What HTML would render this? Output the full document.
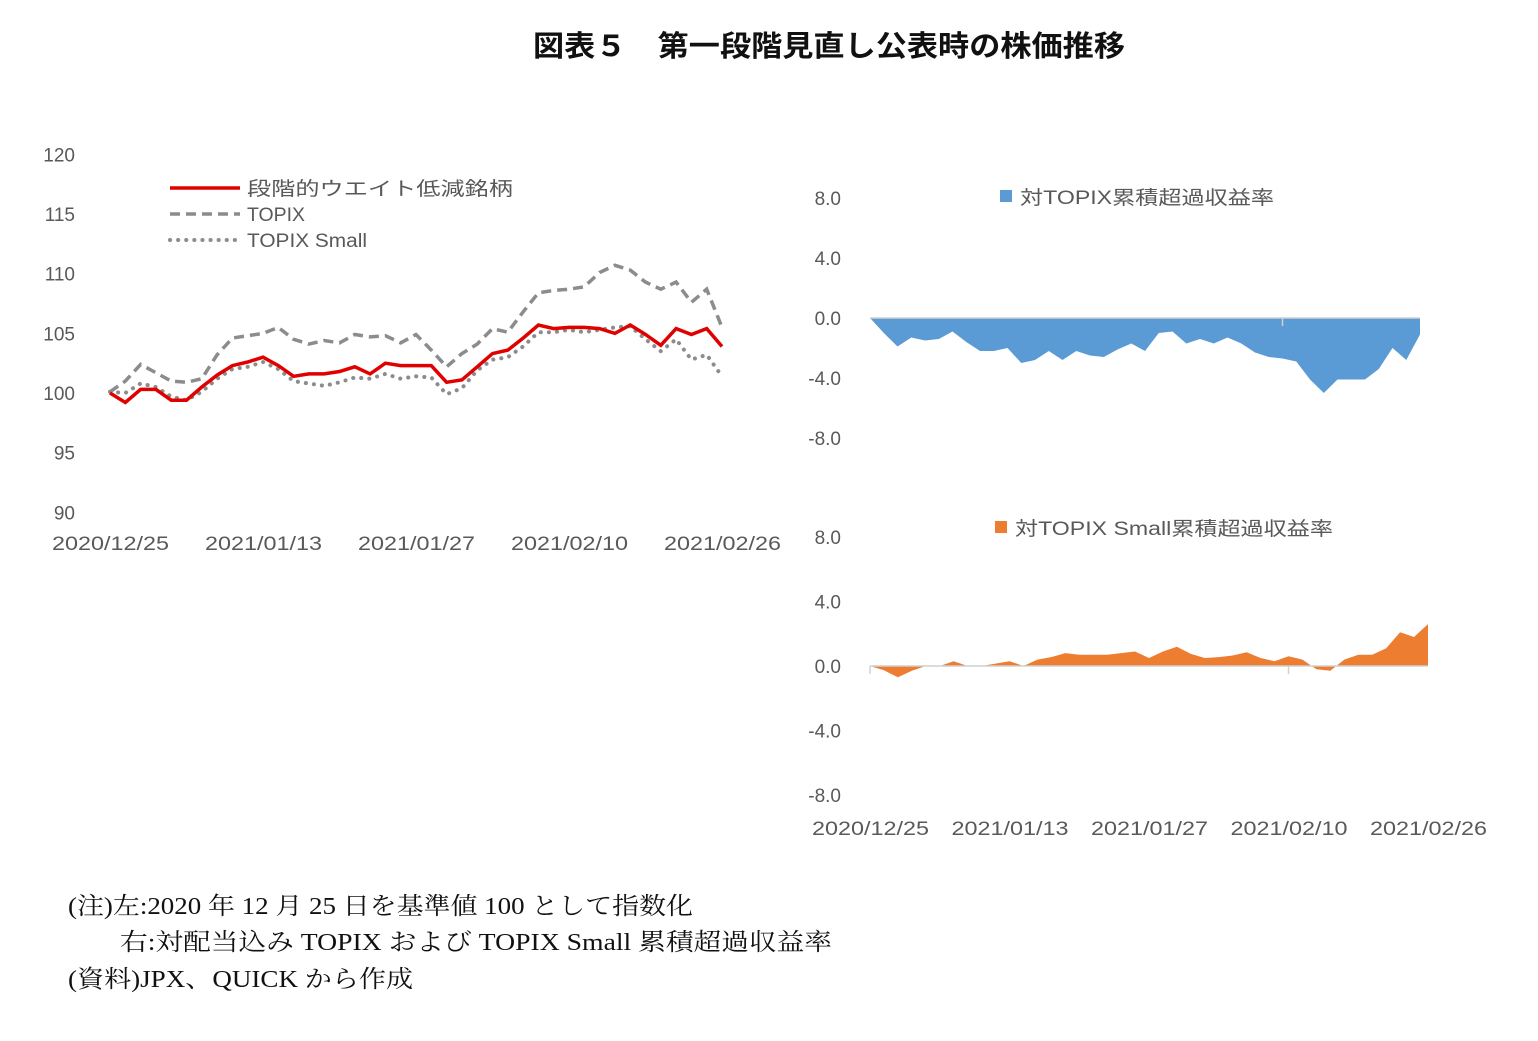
<!DOCTYPE html>
<html><head><meta charset="utf-8"><style>
body{margin:0;background:#fff;width:1538px;height:1036px;overflow:hidden}
svg text{font-family:"Liberation Sans","Noto Sans CJK JP",sans-serif}
.ax{fill:#595959;font-size:19px}
.note{font-family:"Liberation Serif","Noto Serif CJK SC",serif;font-size:24px;fill:#111}
</style></head><body>
<svg id="c" width="1538" height="1036" xmlns="http://www.w3.org/2000/svg">
<text x="533" y="56" textLength="592" lengthAdjust="spacingAndGlyphs" font-size="29" font-weight="bold" fill="#111">図表５　第一段階見直し公表時の株価推移</text>
<g id="left"></g>
<g id="rt"></g>
<g id="rb"></g>
<text class="note" x="68" y="914" textLength="625" lengthAdjust="spacingAndGlyphs">(注)左:2020 年 12 月 25 日を基準値 100 として指数化</text>
<text class="note" x="120" y="950" textLength="712" lengthAdjust="spacingAndGlyphs">右:対配当込み TOPIX および TOPIX Small 累積超過収益率</text>
<text class="note" x="68" y="987" textLength="345" lengthAdjust="spacingAndGlyphs">(資料)JPX、QUICK から作成</text>
</svg>
<script>
const dateLabels=["2020/12/25","2021/01/13","2021/01/27","2021/02/10","2021/02/26"];
const leftTicks=[90,95,100,105,110,115,120];
const rightTicks=[-8,-4,0,4,8];
const stock=[100,99.2,100.3,100.3,99.4,99.4,100.5,101.5,102.3,102.6,103.0,102.3,101.4,101.6,101.6,101.8,102.2,101.6,102.5,102.3,102.3,102.3,100.9,101.1,102.2,103.3,103.6,104.6,105.7,105.4,105.5,105.5,105.4,105.0,105.7,104.9,104.0,105.4,104.9,105.4,103.9];
const topix=[100.1,101.0,102.4,101.7,101.0,100.9,101.2,103.2,104.6,104.8,105.0,105.5,104.5,104.1,104.4,104.2,104.9,104.7,104.8,104.2,104.9,103.6,102.2,103.3,104.1,105.4,105.1,106.8,108.4,108.6,108.7,108.9,110.1,110.7,110.3,109.3,108.7,109.3,107.6,108.7,105.5];
const small=[100.1,100,100.8,100.5,99.7,99.4,100.1,101.2,102.0,102.2,102.6,102.0,101.0,100.8,100.6,100.9,101.3,101.2,101.6,101.2,101.4,101.3,99.9,100.4,101.9,102.8,103.0,103.9,105.1,105.1,105.3,105.1,105.3,105.5,105.6,104.5,103.5,104.5,102.8,103.2,101.4];
const exTopix=[0,-1.0,-1.9,-1.3,-1.5,-1.4,-0.9,-1.6,-2.2,-2.2,-2.0,-3.0,-2.8,-2.2,-2.8,-2.2,-2.5,-2.6,-2.1,-1.7,-2.2,-1.0,-0.9,-1.7,-1.4,-1.7,-1.3,-1.7,-2.3,-2.6,-2.7,-2.9,-4.1,-5.0,-4.1,-4.1,-4.1,-3.4,-2.0,-2.8,-1.1];
const exSmall=[0,-0.27,-0.7,-0.3,0,0,0.3,0,0,0.15,0.3,0,0.4,0.55,0.8,0.7,0.7,0.7,0.8,0.9,0.5,0.9,1.2,0.75,0.5,0.55,0.65,0.85,0.5,0.3,0.6,0.4,-0.2,-0.3,0.4,0.7,0.7,1.1,2.1,1.8,2.6];
const NS="http://www.w3.org/2000/svg";
function mk(p,t,a){const e=document.createElementNS(NS,t);for(const k in a)e.setAttribute(k,a[k]);p.appendChild(e);return e;}
const L=document.getElementById('left');
const n=stock.length;
const lx=i=>110+i*(722-110)/(n-1);
const ly=v=>393-(v-100)*11.93;
leftTicks.forEach(t=>{const e=mk(L,'text',{x:75,y:ly(t)+7,'text-anchor':'end',class:'ax'});e.textContent=t;

});
dateLabels.forEach((d,i)=>{const e=mk(L,'text',{x:lx(i*10)-58,y:550,class:'ax',textLength:117,lengthAdjust:'spacingAndGlyphs'});e.textContent=d;

});
function line(arr){return arr.map((v,i)=>(i?'L':'M')+lx(i).toFixed(1)+','+ly(v).toFixed(1)).join('');}
const s1=mk(L,'path',{d:line(topix),fill:'none',stroke:'#8c8c8c','stroke-width':3.5,'stroke-dasharray':'10 6'});


const s2=mk(L,'path',{d:line(small),fill:'none',stroke:'#8c8c8c','stroke-width':4,'stroke-dasharray':'0.1 8','stroke-linecap':'round'});


const s3=mk(L,'path',{d:line(stock),fill:'none',stroke:'#e00000','stroke-width':3.5});


const leg=[["段階的ウエイト低減銘柄",'#e00000',null,266],["TOPIX",'#8c8c8c','10 6',58],["TOPIX Small",'#8c8c8c','0.1 8',120]];
leg.forEach((g,i)=>{const y=188+i*26;const dot=g[2]&&g[2][0]=='0';const a={x1:170,x2:240,y1:y,y2:y,stroke:g[1],'stroke-width':dot?4:3.5};if(g[2])a['stroke-dasharray']=g[2];if(dot)a['stroke-linecap']='round';
const l=mk(L,'line',a);


const t=mk(L,'text',{x:247,y:y+7,class:'ax',textLength:g[3],lengthAdjust:'spacingAndGlyphs'});t.textContent=g[0];

});
function area(G,arr,zeroY,ppu,x0,x1,color,legY,legX,legText,legW,dates,tickX){
 const rx=i=>x0+i*(x1-x0)/(arr.length-1);
 const ry=v=>zeroY-v*ppu;
 rightTicks.forEach(t=>{const e=mk(G,'text',{x:841,y:ry(t)+7,'text-anchor':'end',class:'ax'});e.textContent=t.toFixed(1);
 
 });
 let d='M'+rx(0)+','+zeroY;arr.forEach((v,i)=>d+='L'+rx(i).toFixed(1)+','+ry(v).toFixed(1));d+='L'+rx(arr.length-1)+','+zeroY+'Z';
 const a=mk(G,'path',{d:d,fill:color});
 
 
 const ax=mk(G,'line',{x1:x0,x2:x1,y1:zeroY,y2:zeroY,stroke:'#d0d0d0','stroke-width':1.5});
 
 
 tickX.forEach(i=>{const t=mk(G,'line',{x1:rx(i),x2:rx(i),y1:zeroY,y2:zeroY+8,stroke:'#d0d0d0','stroke-width':1.5});
 
 });
 const sq=mk(G,'rect',{x:legX,y:legY-6,width:12,height:12,fill:color});
 
 
 const lt=mk(G,'text',{x:legX+20,y:legY+8,class:'ax',textLength:legW,lengthAdjust:'spacingAndGlyphs'});lt.textContent=legText;
 
 
 if(dates)dateLabels.forEach((dd,i)=>{const e=mk(G,'text',{x:rx(i*10)-58,y:835,class:'ax',textLength:117,lengthAdjust:'spacingAndGlyphs'});e.textContent=dd;
 
 });
}
area(document.getElementById('rt'),exTopix,318,15,870,1420,'#5b9bd5',196,1000,'対TOPIX累積超過収益率',254,false,[30]);
area(document.getElementById('rb'),exSmall,666,16.1,870,1428,'#ed7d31',527,995,'対TOPIX Small累積超過収益率',318,true,[0,30]);
</script>
</body></html>
